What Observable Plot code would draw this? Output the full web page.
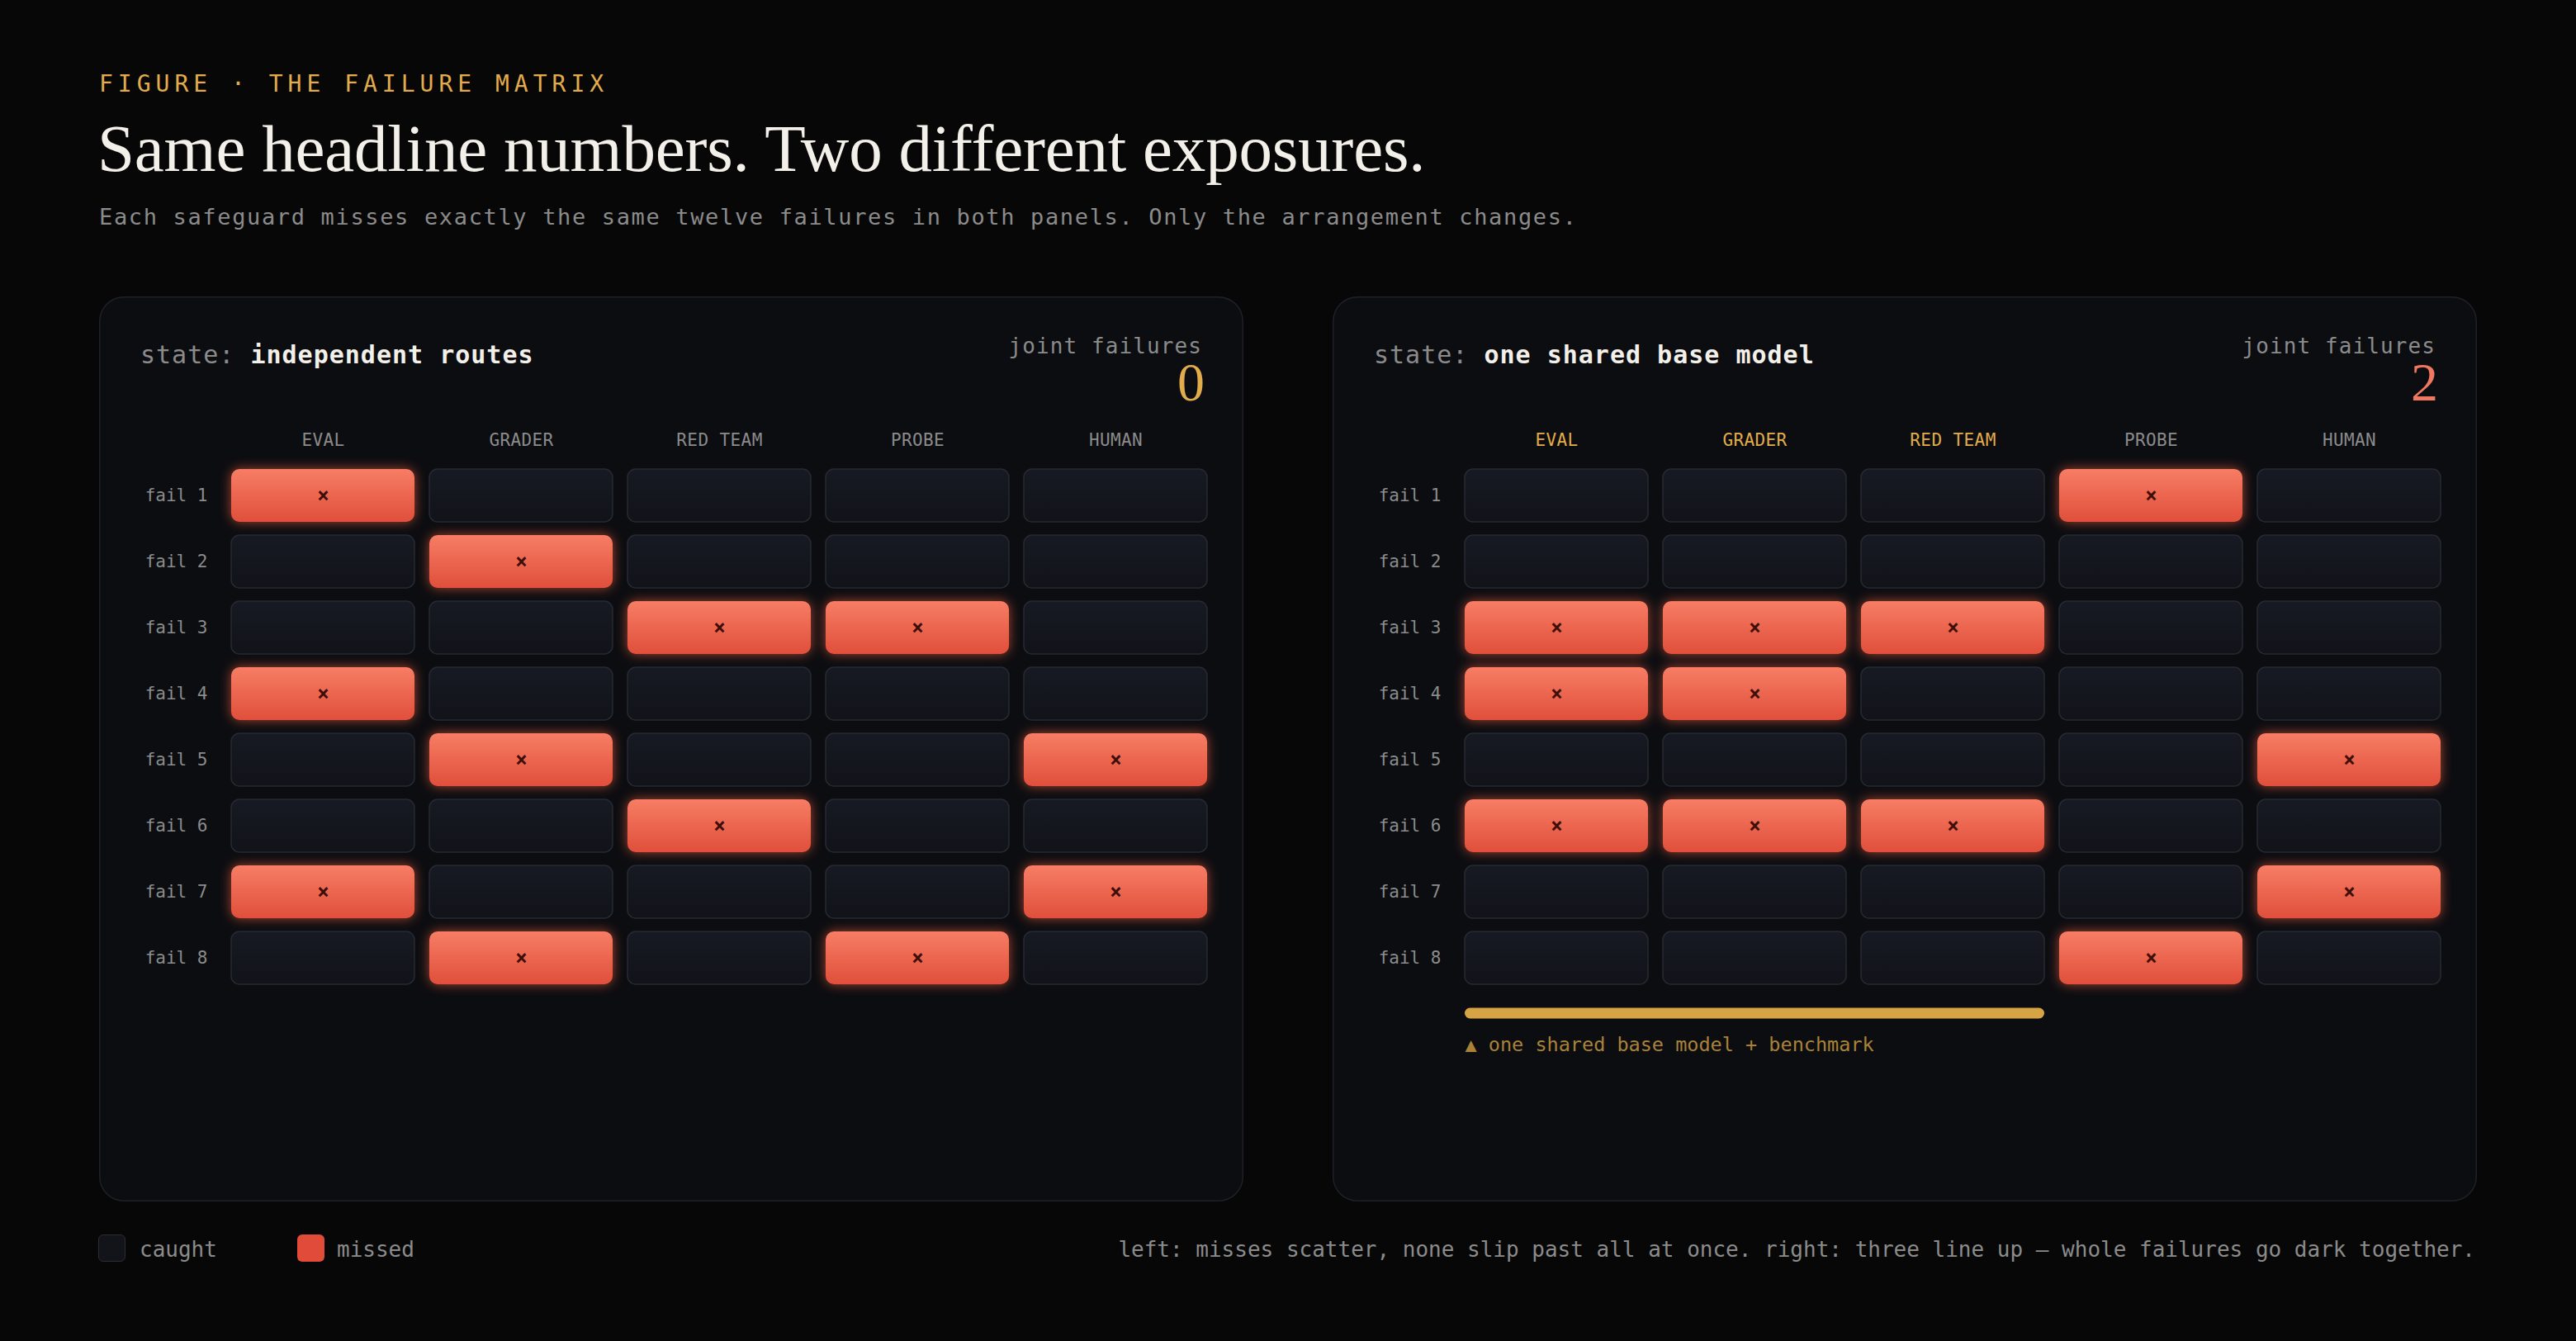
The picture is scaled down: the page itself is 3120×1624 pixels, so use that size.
<!DOCTYPE html>
<html><head><meta charset="utf-8">
<script src="https://cdn.jsdelivr.net/npm/d3@7"></script>
<script src="https://cdn.jsdelivr.net/npm/@observablehq/plot@0.6"></script>
<style>
html,body{margin:0;padding:0;background:#070708;}
body{width:3120px;height:1624px;position:relative;overflow:hidden;font-family:"DejaVu Sans Mono",monospace;}
.abs{position:absolute;white-space:nowrap;line-height:1;}
.panel{position:absolute;top:359px;width:1386px;height:1096px;background:#0c0d11;border-radius:30px;box-shadow:inset 0 0 0 1.5px #1f2128;}
.panel svg{position:absolute;left:0;top:0;}
text[aria-label="header"]{letter-spacing:0.4px;}
.sw{position:absolute;top:1495px;width:33px;height:33px;border-radius:6px;box-sizing:border-box;}
</style></head><body>
<div class="abs" style="left:120px;top:88px;font-size:28px;letter-spacing:6px;color:#e2ac4c;">FIGURE · THE FAILURE MATRIX</div>
<div class="abs" style="left:118px;top:140px;font-family:'Liberation Serif',serif;font-size:81px;color:#f3f0ea;letter-spacing:-0.2px;">Same headline numbers. Two different exposures.</div>
<div class="abs" style="left:120px;top:249px;font-size:27px;letter-spacing:1.65px;color:#8b8b8b;">Each safeguard misses exactly the same twelve failures in both panels. Only the arrangement changes.</div>
<div id="p0" class="panel" style="left:120px;"></div>
<div id="p1" class="panel" style="left:1614px;"></div>
<div class="sw" style="left:119px;background:#12141a;border:1.5px solid #2a2d35;"></div>
<div class="abs" style="left:169px;top:1500px;font-size:26px;color:#8b8b8b;">caught</div>
<div class="sw" style="left:360px;background:#e04c39;"></div>
<div class="abs" style="left:408px;top:1500px;font-size:26px;color:#8b8b8b;">missed</div>
<div class="abs" style="right:122px;top:1500px;font-size:26px;color:#8b8b8b;">left: misses scatter, none slip past all at once. right: three line up — whole failures go dark together.</div>
<script>
// ---- data ----
const safeguards = ["EVAL", "GRADER", "RED TEAM", "PROBE", "HUMAN"];
const failures = ["fail 1", "fail 2", "fail 3", "fail 4", "fail 5", "fail 6", "fail 7", "fail 8"];
const independentMisses = [["EVAL"], ["GRADER"], ["RED TEAM", "PROBE"], ["EVAL"], ["GRADER", "HUMAN"], ["RED TEAM"], ["EVAL", "HUMAN"], ["GRADER", "PROBE"]];
const sharedMisses = [["PROBE"], [], ["EVAL", "GRADER", "RED TEAM"], ["EVAL", "GRADER"], ["HUMAN"], ["EVAL", "GRADER", "RED TEAM"], ["HUMAN"], ["PROBE"]];
const sharedSafeguards = ["EVAL", "GRADER", "RED TEAM"];
const panelStates = ["independent routes", "one shared base model"];
const panelNotes = [null, "▲ one shared base model + benchmark"];
const jointThreshold = 3;

const panels = [
  {state: panelStates[0], misses: independentMisses, shared: [], note: panelNotes[0]},
  {state: panelStates[1], misses: sharedMisses, shared: sharedSafeguards, note: panelNotes[1]}
];

const W = 1386, H = 1096;
const GRAY = "#8b8b8b", AMBER = "#e2ac4c", CORAL = "#f07860";

function addDefs(svg, k) {
  const ns = "http://www.w3.org/2000/svg";
  const defs = document.createElementNS(ns, "defs");
  defs.innerHTML = `
    <linearGradient id="miss${k}" x1="0" y1="0" x2="0" y2="1">
      <stop offset="0" stop-color="#f77d65"/><stop offset="1" stop-color="#e04f3a"/>
    </linearGradient>
    <linearGradient id="caught${k}" x1="0" y1="0" x2="0" y2="1">
      <stop offset="0" stop-color="#171a22"/><stop offset="1" stop-color="#111319"/>
    </linearGradient>
    <filter id="glow${k}" filterUnits="userSpaceOnUse" x="0" y="0" width="${W}" height="${H}">
      <feGaussianBlur in="SourceAlpha" stdDeviation="7" result="b"/>
      <feFlood flood-color="#f05a3c" flood-opacity="0.7"/>
      <feComposite in2="b" operator="in" result="g"/>
      <feMerge><feMergeNode in="g"/><feMergeNode in="SourceGraphic"/></feMerge>
    </filter>`;
  svg.insertBefore(defs, svg.firstChild);
  const r = svg.querySelector('rect[aria-label="missed"]');
  if (r && r.parentNode) r.parentNode.setAttribute("filter", `url(#glow${k})`);
}

panels.forEach((p, k) => {
  const cells = failures.flatMap((f, r) => safeguards.map((s, c) => ({failure: f, safeguard: s, r, c, missed: p.misses[r].includes(s)})));
  const caught = cells.filter(d => !d.missed);
  const missed = cells.filter(d => d.missed);
  const joint = p.misses.filter(m => m.length >= jointThreshold).length;
  const annotRow = failures.length;
  const sharedIdx = p.shared.map(s => safeguards.indexOf(s));
  const cellOpts = {x1: d => d.c, x2: d => d.c + 1, y1: d => d.r, y2: d => d.r + 1,
    insetLeft: 9, insetRight: 9, insetTop: 8, insetBottom: 8, rx: 10};
  const marks = [
    Plot.rect(caught, {...cellOpts, fill: `url(#caught${k})`, stroke: "#262a32", strokeWidth: 1.5, ariaLabel: () => "caught"}),
    Plot.rect(missed, {...cellOpts, fill: `url(#miss${k})`, ariaLabel: () => "missed"}),
    Plot.text(missed, {x: d => d.c + 0.5, y: d => d.r + 0.5, text: () => "×", fontSize: 24, fontWeight: "bold", fill: "#3d0f08"}),
    Plot.text(safeguards.filter(s => !p.shared.includes(s)), {x: d => safeguards.indexOf(d) + 0.5, y: 0, dy: -27.5, text: d => d, fontSize: 21, fill: GRAY, ariaLabel: () => "header"}),
    Plot.text(safeguards.filter(s => p.shared.includes(s)), {x: d => safeguards.indexOf(d) + 0.5, y: 0, dy: -27.5, text: d => d, fontSize: 21, fill: AMBER, ariaLabel: () => "header"}),
    Plot.text(failures, {x: 0, y: (d, i) => i + 0.5, dx: -20, textAnchor: "end", text: d => d, fontSize: 21, fill: GRAY})
  ];
  if (sharedIdx.length) {
    const band = [{x1: d3.min(sharedIdx), x2: d3.max(sharedIdx) + 1, y1: annotRow, y2: annotRow + 1, note: p.note}];
    marks.push(Plot.rect(band, {x1: "x1", x2: "x2", y1: "y1", y2: "y2", insetLeft: 9, insetRight: 9, insetTop: 20.5, insetBottom: 46.5, rx: 6.5, fill: "#d6a444"}));
    marks.push(Plot.text(band, {x: "x1", y: d => d.y1 + 0.5, dx: 9, dy: 25, text: "note", textAnchor: "start", fontSize: 23.5, fill: "#a98238"}));
  }
  const svg = Plot.plot({
    width: W, height: H,
    marginLeft: 151, marginRight: 35, marginTop: 201, marginBottom: 175,
    x: {domain: [0, safeguards.length], axis: null},
    y: {domain: [0, failures.length + 1], reverse: true, axis: null},
    style: {background: "transparent", overflow: "visible", maxWidth: "none", fontFamily: "DejaVu Sans Mono, monospace"},
    marks
  });
  addDefs(svg, k);
  const host = document.getElementById("p" + k);
  host.appendChild(svg);
  const st = document.createElement("div");
  st.className = "abs";
  st.style.cssText = "left:50px;top:55.6px;font-size:30px;letter-spacing:1px;color:" + GRAY;
  st.innerHTML = 'state: <span style="color:#f3f0ea;font-weight:bold">' + p.state + '</span>';
  host.appendChild(st);
  const jf = document.createElement("div");
  jf.className = "abs";
  jf.style.cssText = "right:50px;top:47px;font-size:26px;letter-spacing:1.1px;color:" + GRAY;
  jf.textContent = "joint failures";
  host.appendChild(jf);
  const num = document.createElement("div");
  num.className = "abs";
  num.style.cssText = "right:47px;top:74px;line-height:0.9;font-family:'Liberation Serif',serif;font-size:66px;color:" + (joint === 0 ? AMBER : CORAL);
  num.textContent = String(joint);
  host.appendChild(num);
});
</script>
</body></html>
